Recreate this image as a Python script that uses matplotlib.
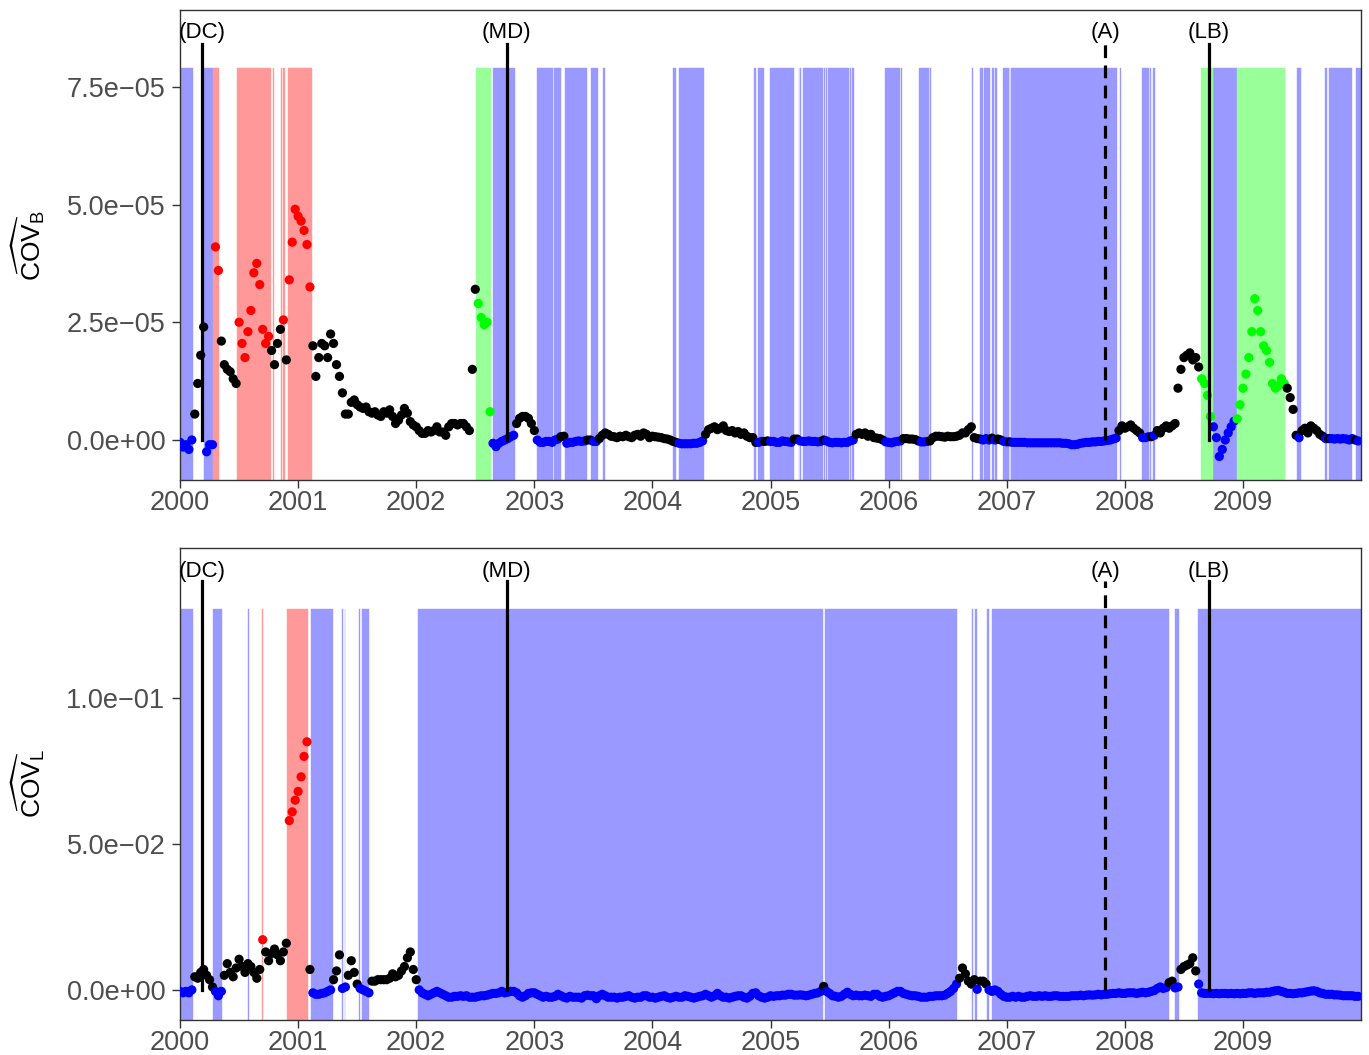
import numpy as np
import matplotlib.pyplot as plt

plt.rcParams['font.family'] = ['Liberation Sans', 'DejaVu Sans']
plt.rcParams['mathtext.fontset'] = 'custom'
plt.rcParams['mathtext.rm'] = 'Liberation Sans'
plt.rcParams['mathtext.it'] = 'Liberation Sans:italic'

# ---- data: 40 readings per year, 2000-2009 ----
steps_per_year = 40

# COV_B, in units of 1e-5
cov_b_2000 = [-0.05, -0.15, -0.1, -0.2, 0.0, 0.55, 1.2, 1.8, 2.4, -0.25,
              -0.1, -0.1, 4.1, 3.6, 2.1, 1.6, 1.5, 1.45, 1.3, 1.2,
              2.5, 2.05, 1.75, 2.3, 2.75, 3.55, 3.75, 3.3, 2.35, 2.05,
              2.2, 1.9, 1.6, 2.05, 2.35, 2.55, 1.7, 3.4, 4.2, 4.9]
cov_b_2001 = [4.75, 4.65, 4.45, 4.15, 3.25, 2.0, 1.35, 1.75, 2.05, 2.0,
              1.75, 2.25, 2.05, 1.6, 1.35, 1.0, 0.55, 0.55, 0.8, 0.85,
              0.75, 0.7, 0.67, 0.7, 0.6, 0.57, 0.6, 0.53, 0.5, 0.6,
              0.57, 0.64, 0.5, 0.35, 0.42, 0.53, 0.67, 0.57, 0.39, 0.32]
cov_b_2002 = [0.28, 0.2, 0.14, 0.14, 0.2, 0.17, 0.2, 0.28, 0.17, 0.17,
              0.1, 0.28, 0.35, 0.35, 0.32, 0.35, 0.35, 0.28, 0.2, 1.5,
              3.2, 2.9, 2.6, 2.45, 2.5, 0.6, -0.07, -0.14, -0.07, -0.03,
              0.0, 0.03, 0.07, 0.1, 0.35, 0.46, 0.5, 0.5, 0.46, 0.35]
cov_b_2003 = [0.2, 0.0, -0.05, -0.05, -0.03, -0.03, -0.05, 0.0, 0.02, 0.07,
              0.08, -0.07, -0.05, -0.05, -0.03, -0.02, -0.03, -0.02, 0.0, 0.0,
              -0.03, -0.03, 0.03, 0.1, 0.15, 0.12, 0.08, 0.07, 0.05, 0.08,
              0.07, 0.1, 0.07, 0.05, 0.1, 0.12, 0.08, 0.15, 0.12, 0.05]
cov_b_2004 = [0.08, 0.07, 0.06, 0.05, 0.03, 0.02, 0.0, -0.03, -0.05, -0.07,
              -0.08, -0.08, -0.08, -0.08, -0.07, -0.07, -0.05, -0.02, 0.12, 0.22,
              0.25, 0.28, 0.22, 0.25, 0.3, 0.2, 0.18, 0.2, 0.15, 0.18,
              0.12, 0.15, 0.08, 0.05, 0.05, -0.05, -0.05, -0.03, -0.03, -0.02]
cov_b_2005 = [-0.03, -0.03, -0.05, -0.05, -0.02, -0.03, -0.04, -0.05, 0.02, 0.02,
              -0.02, -0.03, -0.03, -0.02, -0.03, -0.03, -0.04, -0.03, 0.0, -0.02,
              -0.05, -0.06, -0.05, -0.05, -0.06, -0.05, -0.05, -0.02, 0.0, 0.12,
              0.15, 0.12, 0.15, 0.08, 0.12, 0.05, 0.04, 0.03, 0.0, -0.04]
cov_b_2006 = [-0.05, -0.06, -0.04, -0.03, -0.02, 0.03, 0.03, 0.02, 0.02, 0.01,
              -0.02, -0.04, -0.04, -0.03, -0.02, 0.05, 0.08, 0.08, 0.07, 0.06,
              0.08, 0.07, 0.07, 0.08, 0.1, 0.15, 0.15, 0.22, 0.28, 0.05,
              0.03, 0.02, 0.0, 0.03, 0.0, 0.04, 0.0, 0.02, 0.0, -0.03]
cov_b_2007 = [-0.04, -0.04, -0.05, -0.05, -0.05, -0.05, -0.05, -0.06, -0.06, -0.06,
              -0.06, -0.06, -0.06, -0.06, -0.06, -0.06, -0.06, -0.06, -0.06, -0.07,
              -0.07, -0.08, -0.1, -0.1, -0.09, -0.07, -0.06, -0.05, -0.05, -0.04,
              -0.04, -0.03, -0.03, -0.02, -0.01, 0.0, 0.02, 0.04, 0.2, 0.3]
cov_b_2008 = [0.25, 0.28, 0.32, 0.25, 0.2, 0.15, 0.05, 0.05, 0.07, 0.07,
              0.1, 0.2, 0.15, 0.25, 0.3, 0.25, 0.3, 0.35, 1.1, 1.5,
              1.75, 1.8, 1.85, 1.7, 1.75, 1.55, 1.3, 1.2, 0.95, 0.5,
              0.28, 0.05, -0.35, -0.2, 0.0, 0.15, 0.28, 0.4, 0.45, 0.75]
cov_b_2009 = [1.1, 1.4, 1.75, 2.3, 3.0, 2.75, 2.3, 2.0, 1.9, 1.65,
              1.2, 1.1, 1.15, 1.3, 1.2, 1.1, 0.9, 0.65, 0.1, 0.05,
              0.2, 0.25, 0.15, 0.3, 0.25, 0.2, 0.12, 0.08, 0.03, 0.03,
              0.03, 0.02, 0.03, 0.02, 0.03, 0.02, 0.0, 0.03, 0.0, -0.02]

# COV_L, in units of 1e-2
cov_l_2000 = [-0.05, -0.1, -0.05, -0.1, 0.0, 0.45, 0.4, 0.6, 0.7, 0.5,
              0.35, 0.1, -0.05, -0.2, -0.05, 0.5, 0.9, 0.6, 0.45, 0.75,
              1.05, 0.8, 0.6, 0.9, 0.8, 0.6, 0.4, 0.7, 1.72, 1.3,
              1.0, 1.25, 1.4, 1.2, 1.0, 1.3, 1.6, 5.8, 6.1, 6.5]
cov_l_2001 = [6.8, 7.3, 8.0, 8.5, 0.7, -0.1, -0.15, -0.15, -0.12, -0.1,
              -0.05, 0.0, 0.35, 0.65, 1.2, 0.05, 0.1, 0.5, 1.0, 0.6,
              0.2, 0.05, 0.0, -0.05, -0.1, 0.3, 0.3, 0.35, 0.35, 0.35,
              0.35, 0.4, 0.55, 0.45, 0.5, 0.65, 0.8, 1.1, 1.3, 0.7]
cov_l_2002 = [0.35, 0.0, -0.1, -0.15, -0.2, -0.15, -0.1, -0.05, -0.1, -0.15,
              -0.2, -0.25, -0.25, -0.22, -0.22, -0.2, -0.22, -0.2, -0.25, -0.25,
              -0.25, -0.22, -0.2, -0.2, -0.18, -0.15, -0.12, -0.12, -0.1, -0.05,
              -0.1, -0.08, -0.05, -0.05, -0.1, -0.2, -0.25, -0.2, -0.12, -0.1]
cov_l_2003 = [-0.1, -0.15, -0.2, -0.25, -0.22, -0.25, -0.25, -0.22, -0.15, -0.2,
              -0.25, -0.28, -0.22, -0.25, -0.25, -0.25, -0.28, -0.2, -0.18, -0.2,
              -0.2, -0.3, -0.2, -0.15, -0.2, -0.25, -0.25, -0.25, -0.28, -0.25,
              -0.25, -0.22, -0.2, -0.25, -0.28, -0.25, -0.25, -0.2, -0.2, -0.25]
cov_l_2004 = [-0.25, -0.28, -0.25, -0.22, -0.2, -0.25, -0.28, -0.25, -0.22, -0.25,
              -0.25, -0.2, -0.22, -0.25, -0.28, -0.25, -0.22, -0.2, -0.15, -0.2,
              -0.25, -0.2, -0.12, -0.2, -0.25, -0.25, -0.28, -0.25, -0.22, -0.2,
              -0.2, -0.25, -0.28, -0.22, -0.12, -0.1, -0.2, -0.25, -0.28, -0.25]
cov_l_2005 = [-0.2, -0.22, -0.2, -0.2, -0.18, -0.18, -0.15, -0.15, -0.18, -0.18,
              -0.17, -0.18, -0.2, -0.18, -0.15, -0.12, -0.1, -0.05, 0.12, -0.05,
              -0.12, -0.2, -0.22, -0.25, -0.22, -0.15, -0.08, -0.15, -0.2, -0.18,
              -0.2, -0.2, -0.18, -0.2, -0.22, -0.15, -0.15, -0.22, -0.25, -0.22]
cov_l_2006 = [-0.2, -0.15, -0.1, -0.05, -0.05, -0.12, -0.15, -0.18, -0.2, -0.2,
              -0.22, -0.25, -0.25, -0.25, -0.22, -0.22, -0.2, -0.2, -0.2, -0.18,
              -0.12, -0.05, 0.05, 0.2, 0.4, 0.75, 0.55, 0.3, 0.2, 0.35,
              0.02, 0.3, 0.3, 0.2, 0.0, -0.05, 0.0, -0.05, -0.15, -0.22]
cov_l_2007 = [-0.25, -0.25, -0.22, -0.25, -0.22, -0.25, -0.25, -0.22, -0.2, -0.22,
              -0.22, -0.2, -0.22, -0.2, -0.22, -0.22, -0.2, -0.2, -0.22, -0.22,
              -0.22, -0.22, -0.2, -0.2, -0.2, -0.18, -0.2, -0.18, -0.17, -0.18,
              -0.17, -0.15, -0.17, -0.15, -0.15, -0.13, -0.12, -0.12, -0.1, -0.12]
cov_l_2008 = [-0.12, -0.1, -0.1, -0.1, -0.12, -0.1, -0.08, -0.1, -0.08, -0.05,
              -0.02, 0.05, 0.1, 0.05, 0.08, 0.25, 0.3, 0.07, 0.1, 0.7,
              0.8, 0.85, 0.9, 1.1, 0.65, 0.2, -0.1, -0.12, -0.12, -0.12,
              -0.13, -0.12, -0.13, -0.12, -0.12, -0.13, -0.12, -0.13, -0.12, -0.13]
cov_l_2009 = [-0.12, -0.12, -0.1, -0.1, -0.12, -0.1, -0.1, -0.1, -0.08, -0.08,
              -0.05, -0.03, -0.02, -0.05, -0.08, -0.12, -0.12, -0.13, -0.12, -0.1,
              -0.1, -0.08, -0.06, -0.04, -0.03, -0.05, -0.1, -0.12, -0.15, -0.15,
              -0.15, -0.17, -0.17, -0.18, -0.2, -0.2, -0.2, -0.2, -0.22, -0.22]

# regime periods (decimal years)
blue_b = [(2000.0, 2000.106), (2000.203, 2000.277), (2002.647, 2002.837),
          (2003.023, 2003.158), (2003.167, 2003.224), (2003.26, 2003.446),
          (2003.48, 2003.537), (2003.582, 2003.596), (2004.178, 2004.196),
          (2004.221, 2004.435), (2004.856, 2004.873), (2004.898, 2004.943),
          (2004.996, 2005.199), (2005.237, 2005.242), (2005.25, 2005.26),
          (2005.275, 2005.441), (2005.452, 2005.461), (2005.47, 2005.478),
          (2005.487, 2005.665), (2005.673, 2005.679), (2005.69, 2005.707),
          (2005.97, 2006.10), (2006.105, 2006.11), (2006.257, 2006.345),
          (2006.352, 2006.357), (2006.708, 2006.714), (2006.776, 2006.80),
          (2006.805, 2006.858), (2006.878, 2006.889), (2006.898, 2006.918),
          (2006.968, 2007.021), (2007.027, 2007.031), (2007.034, 2007.931),
          (2007.959, 2007.968), (2008.145, 2008.207), (2008.213, 2008.219),
          (2008.242, 2008.253), (2008.747, 2008.95), (2009.455, 2009.488),
          (2009.695, 2009.709), (2009.731, 2009.926), (2009.957, 2010.0)]
red_b = [(2000.277, 2000.326), (2000.483, 2000.768), (2000.785, 2000.792),
         (2000.855, 2000.864), (2000.875, 2000.889), (2000.914, 2001.118)]
green_b = [(2002.506, 2002.63), (2008.645, 2008.747), (2008.95, 2009.357)]

blue_l = [(2000.0, 2000.107), (2000.282, 2000.356), (2000.579, 2000.584),
          (2001.109, 2001.296), (2001.372, 2001.377), (2001.394, 2001.401),
          (2001.515, 2001.526), (2001.538, 2001.601), (2002.015, 2005.448),
          (2005.460, 2006.579), (2006.709, 2006.718), (2006.735, 2006.751),
          (2006.836, 2006.840), (2006.845, 2006.852), (2006.873, 2008.374),
          (2008.424, 2008.459), (2008.617, 2010.0)]
red_l = [(2000.692, 2000.702), (2000.906, 2001.081)]
green_l = []

event_names = ['(DC)', '(MD)', '(A)', '(LB)']
event_times = [2000.184, 2002.765, 2007.832, 2008.713]
event_dashed = [False, False, True, False]

year_ticks = list(range(2000, 2010))

SHADE = {'blue': '#9999FF', 'red': '#FF9999', 'green': '#99FF99'}
POINT = {'blue': '#0000FF', 'red': '#FF0000', 'green': '#00FF00', 'none': '#000000'}


def point_colors(t, blue, red, green):
    cols = []
    for x in t:
        c = 'none'
        for name, spans in (('blue', blue), ('red', red), ('green', green)):
            for lo, hi in spans:
                if lo <= x <= hi:
                    c = name
        cols.append(POINT[c])
    return cols


def draw_panel(ax, t, v, blue, red, green, ylim, shade_top, line_top, label_y,
               yticks, yticklabels, ylabel, ylabel_y):
    for name, spans in (('blue', blue), ('red', red), ('green', green)):
        for lo, hi in spans:
            ax.fill_between([lo, hi], ylim[0], shade_top, color=SHADE[name],
                            lw=0.3, edgecolor=SHADE[name], zorder=1)
    ax.scatter(t, v, c=point_colors(t, blue, red, green), s=44, lw=0, zorder=3)
    for name, x, dashed in zip(event_names, event_times, event_dashed):
        ax.plot([x, x], [0, line_top], color='black', lw=2.3,
                ls=(0, (4, 2.3)) if dashed else '-', zorder=4)
        ax.text(x, label_y, name, ha='center', va='center', fontsize=16)
    ax.set_xlim(2000, 2010)
    ax.set_ylim(*ylim)
    ax.set_xticks(year_ticks)
    ax.set_xticklabels([str(y) for y in year_ticks])
    ax.set_yticks(yticks)
    ax.set_yticklabels(yticklabels)
    ax.tick_params(colors='#333333', labelcolor='#4D4D4D', labelsize=19.5,
                   length=5.5, width=1.0)
    ax.tick_params(axis='x', pad=1.5)
    ax.tick_params(axis='y', pad=5)
    for s in ax.spines.values():
        s.set_color('#333333')
        s.set_linewidth(1.0)
    fig.text(0.0205, ylabel_y, ylabel, rotation=90, ha='center', va='center',
             fontsize=19)


t = 2000 + np.arange(10 * steps_per_year) / steps_per_year
cov_b = np.concatenate([cov_b_2000, cov_b_2001, cov_b_2002, cov_b_2003, cov_b_2004,
                        cov_b_2005, cov_b_2006, cov_b_2007, cov_b_2008, cov_b_2009]) * 1e-5
cov_l = np.concatenate([cov_l_2000, cov_l_2001, cov_l_2002, cov_l_2003, cov_l_2004,
                        cov_l_2005, cov_l_2006, cov_l_2007, cov_l_2008, cov_l_2009]) * 1e-2

fig = plt.figure(figsize=(13.69, 10.55), dpi=100)
ax1 = fig.add_axes([0.1315, 0.545, 0.8627, 0.4455])
ax2 = fig.add_axes([0.1315, 0.0332, 0.8627, 0.4474])

draw_panel(ax1, t, cov_b, blue_b, red_b, green_b, (-0.85e-5, 9.13e-5), 7.9e-5, 8.4e-5, 8.66e-5,
           [0, 2.5e-5, 5e-5, 7.5e-5],
           ['0.0e+00', '2.5e\u221205', '5.0e\u221205', '7.5e\u221205'],
           r'$\widehat{\mathrm{COV}}_{\mathrm{B}}$', 0.767)
draw_panel(ax2, t, cov_l, blue_l, red_l, green_l, (-0.0103, 0.1514), 0.1304, 0.140, 0.1435,
           [0, 0.05, 0.1],
           ['0.0e+00', '5.0e\u221202', '1.0e\u221201'],
           r'$\widehat{\mathrm{COV}}_{\mathrm{L}}$', 0.257)

fig.savefig('out.png', dpi=100)
